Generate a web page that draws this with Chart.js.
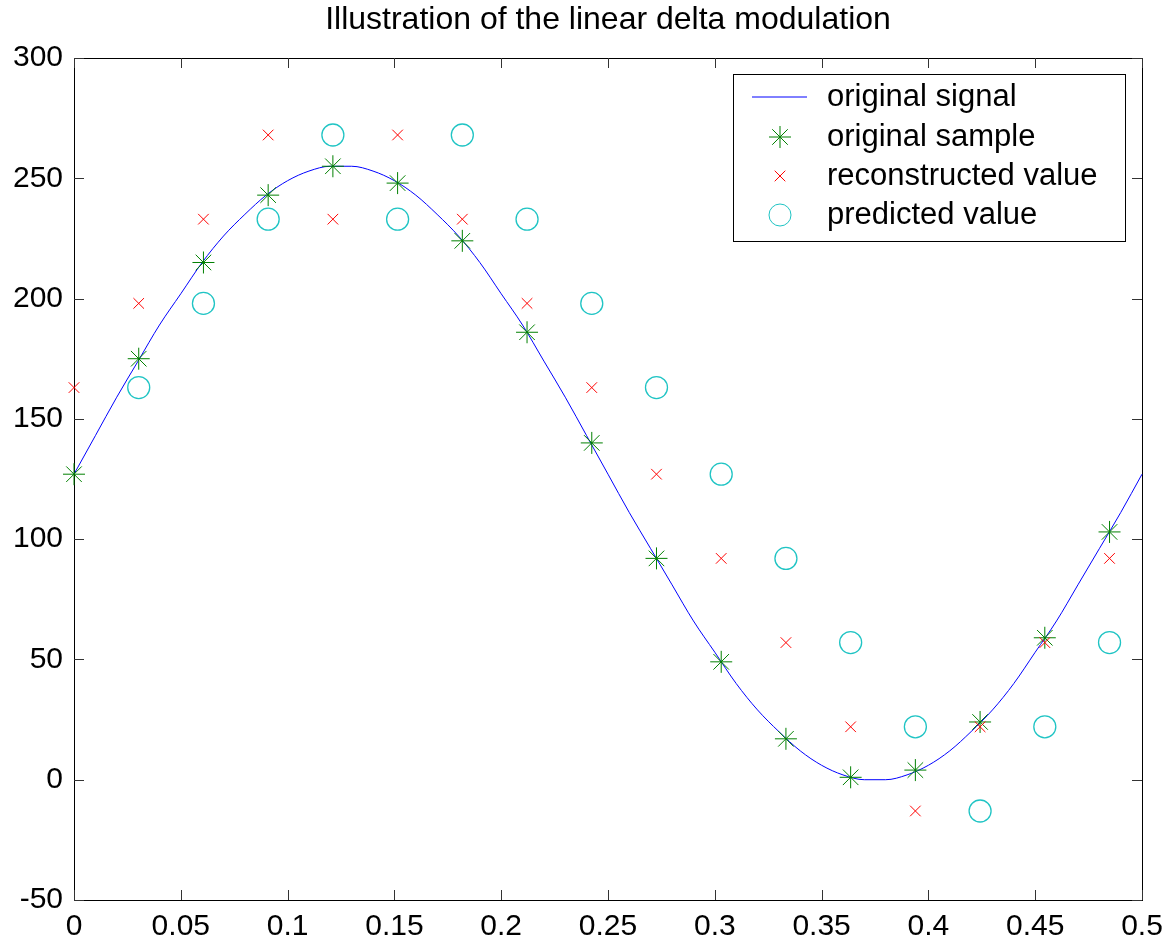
<!DOCTYPE html>
<html>
<head>
<meta charset="utf-8">
<script src="https://cdn.jsdelivr.net/npm/chart.js@4.4.0/dist/chart.umd.min.js"></script>
<style>
  html, body { margin: 0; padding: 0; background: #fff; }
  #wrap { width: 1176px; height: 943px; }
</style>
</head>
<body>
<div id="wrap"><canvas id="chart"></canvas></div>
<script>
// --- Datos ---
const chartTitle = 'Illustration of the linear delta modulation';

const signalT = [0, 0.01, 0.02, 0.03, 0.04, 0.05, 0.06, 0.07, 0.08, 0.09,
  0.10, 0.11, 0.12, 0.13, 0.14, 0.15, 0.16, 0.17, 0.18, 0.19,
  0.20, 0.21, 0.22, 0.23, 0.24, 0.25, 0.26, 0.27, 0.28, 0.29,
  0.30, 0.31, 0.32, 0.33, 0.34, 0.35, 0.36, 0.37, 0.38, 0.39,
  0.40, 0.41, 0.42, 0.43, 0.44, 0.45, 0.46, 0.47, 0.48, 0.49, 0.50];
const signalY = [127, 143, 159, 174, 189, 202, 215, 226, 235, 243,
  249, 253, 255, 255, 253, 249, 243, 235, 226, 215,
  202, 189, 174, 159, 143, 127, 111, 96, 81, 66,
  53, 40, 29, 20, 12, 6, 2, 0, 0, 2,
  6, 12, 20, 29, 40, 53, 66, 81, 96, 111, 127];

const sampleT = [0, 0.0303, 0.0606, 0.0909, 0.1212, 0.1515, 0.1818, 0.2121, 0.2424,
  0.2727, 0.3030, 0.3333, 0.3636, 0.3939, 0.4242, 0.4545, 0.4848];
const sampleY = [127, 175, 215, 243, 255, 248, 224, 186, 140, 92, 49, 17, 1, 4, 24, 59, 103];
const reconY = [163, 198, 233, 268, 233, 268, 233, 198, 163, 127, 92, 57, 22, -13, 22, 57, 92];
// el primer valor predicho (t = 0) no aparece en la figura
const predT = sampleT.slice(1);
const predY = [163, 198, 233, 268, 233, 268, 233, 198, 163, 127, 92, 57, 22, -13, 22, 57];

const xTickLabels = ['0', '0.05', '0.1', '0.15', '0.2', '0.25', '0.3', '0.35', '0.4', '0.45', '0.5'];
const yTickLabels = ['-50', '0', '50', '100', '150', '200', '250', '300'];

const legendLabels = ['original signal', 'original sample', 'reconstructed value', 'predicted value'];

const FONT = "'Liberation Sans', Arial, Helvetica, sans-serif";

const toPoints = (xs, ys) => xs.map((x, i) => ({ x: x, y: ys[i] }));

// --- Marco estilo MATLAB: caja completa con marcas hacia dentro + título ---
const framePlugin = {
  id: 'frame',
  beforeDatasetsDraw(chart) {
    const { ctx, chartArea: a, scales } = chart;
    ctx.save();
    ctx.strokeStyle = '#000';
    ctx.lineWidth = 1;
    ctx.strokeRect(a.left + 0.5, a.top + 0.5, a.right - a.left, a.bottom - a.top);
    ctx.beginPath();
    const tl = 10;
    scales.x.ticks.forEach(t => {
      const px = Math.round(scales.x.getPixelForValue(t.value)) + 0.5;
      ctx.moveTo(px, a.bottom); ctx.lineTo(px, a.bottom - tl);
      ctx.moveTo(px, a.top); ctx.lineTo(px, a.top + tl);
    });
    scales.y.ticks.forEach(t => {
      const py = Math.round(scales.y.getPixelForValue(t.value)) + 0.5;
      ctx.moveTo(a.left, py); ctx.lineTo(a.left + tl, py);
      ctx.moveTo(a.right, py); ctx.lineTo(a.right - tl, py);
    });
    ctx.strokeStyle = '#333';
    ctx.stroke();

    ctx.fillStyle = '#000';
    ctx.font = '32px ' + FONT;
    ctx.textAlign = 'center';
    ctx.textBaseline = 'middle';
    ctx.fillText(chartTitle, (a.left + a.right) / 2, 20);
    ctx.restore();
  }
};

// --- Leyenda dentro del área del gráfico ---
const legendPlugin = {
  id: 'innerLegend',
  afterDatasetsDraw(chart) {
    const { ctx, chartArea: a } = chart;
    const w = 392, h = 167;
    const left = a.right - 17 - w, top = a.top + 16;
    ctx.save();
    ctx.fillStyle = '#fff';
    ctx.fillRect(left, top, w, h);
    ctx.strokeStyle = '#000';
    ctx.lineWidth = 1;
    ctx.strokeRect(left + 0.5, top + 0.5, w, h);
    const rows = [23, 63, 102, 141];
    chart.data.datasets.forEach((ds, i) => {
      const cy = top + rows[i];
      const cx = left + 47;
      if (ds.showLine) {
        ctx.beginPath();
        ctx.strokeStyle = ds.borderColor;
        ctx.lineWidth = 1;
        ctx.moveTo(left + 19, cy);
        ctx.lineTo(left + 74, cy);
        ctx.stroke();
      } else {
        ctx.strokeStyle = ds.pointBorderColor;
        ctx.fillStyle = 'rgba(0,0,0,0)';
        ctx.lineWidth = 1;
        Chart.helpers.drawPoint(ctx, {
          pointStyle: ds.pointStyle, radius: ds.pointRadius, rotation: 0, borderWidth: 1
        }, cx, cy);
      }
      ctx.fillStyle = '#000';
      ctx.font = '31px ' + FONT;
      ctx.textAlign = 'left';
      ctx.textBaseline = 'middle';
      ctx.fillText(legendLabels[i], left + 94, cy);
    });
    ctx.restore();
  }
};

new Chart(document.getElementById('chart'), {
  type: 'scatter',
  data: {
    datasets: [
      {
        label: legendLabels[0],
        data: toPoints(signalT, signalY),
        showLine: true,
        borderColor: '#0000ff',
        borderWidth: 1,
        pointRadius: 0,
        cubicInterpolationMode: 'monotone',
        clip: false,
        order: 4
      },
      {
        label: legendLabels[1],
        data: toPoints(sampleT, sampleY),
        showLine: false,
        pointStyle: 'star',
        pointRadius: 11,
        pointBorderColor: '#008000',
        pointBackgroundColor: 'rgba(0,0,0,0)',
        pointBorderWidth: 1,
        clip: false,
        order: 3
      },
      {
        label: legendLabels[2],
        data: toPoints(sampleT, reconY),
        showLine: false,
        pointStyle: 'crossRot',
        pointRadius: 7.5,
        pointBorderColor: '#ff0000',
        pointBackgroundColor: 'rgba(0,0,0,0)',
        pointBorderWidth: 1,
        clip: false,
        order: 2
      },
      {
        label: legendLabels[3],
        data: toPoints(predT, predY),
        showLine: false,
        pointStyle: 'circle',
        pointRadius: 11,
        pointBorderColor: '#1fc4c4',
        pointBackgroundColor: 'rgba(0,0,0,0)',
        pointBorderWidth: 1.3,
        clip: false,
        order: 1
      }
    ]
  },
  options: {
    responsive: true,
    maintainAspectRatio: false,
    animation: false,
    layout: { padding: { top: 58, right: 34, left: 0, bottom: 0 } },
    plugins: {
      legend: { display: false },
      title: { display: false },
      tooltip: { enabled: false }
    },
    scales: {
      x: {
        type: 'linear',
        min: 0,
        max: 0.5,
        afterFit: s => { s.height = 43; },
        grid: { display: false, drawTicks: false },
        border: { display: false },
        ticks: {
          stepSize: 0.05,
          padding: 9,
          color: '#000',
          maxRotation: 0,
          autoSkip: false,
          font: { family: FONT, size: 30 },
          callback: (v, i) => xTickLabels[i]
        }
      },
      y: {
        type: 'linear',
        min: -50,
        max: 300,
        afterFit: s => { s.width = 74; },
        grid: { display: false, drawTicks: false },
        border: { display: false },
        ticks: {
          stepSize: 50,
          padding: 11,
          color: '#000',
          autoSkip: false,
          font: { family: FONT, size: 30 },
          callback: (v, i) => yTickLabels[i]
        }
      }
    }
  },
  plugins: [framePlugin, legendPlugin]
});
</script>
</body>
</html>
